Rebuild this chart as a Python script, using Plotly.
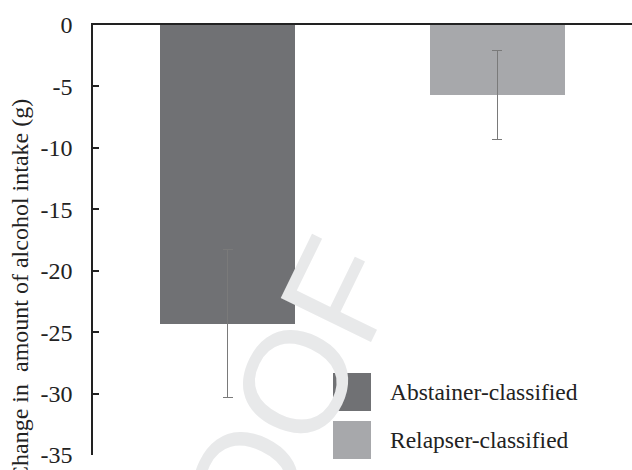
import plotly.graph_objects as go

# Mean change in alcohol intake (g) per group, with error half-widths
groups = ["Abstainer-classified", "Relapser-classified"]
mean_change = [-24.3, -5.7]
error = [6.0, 3.6]
bar_colors = ["#707174", "#a7a8ab"]

y_ticks = [0, -5, -10, -15, -20, -25, -30, -35]

W, H = 632, 470
M_L, M_R, M_T, M_B = 93, 0, 25, 15
pw = W - M_L - M_R
ph = H - M_T - M_B


def px_x(x):
    return (x - M_L) / pw


def px_y(y):
    return 1 - (y - M_T) / ph


serif = "Liberation Serif, Times New Roman, serif"
ink = "#222222"

fig = go.Figure()

# Faint background watermark
fig.add_annotation(
    text="PROOF", xref="paper", yref="paper",
    x=px_x(245), y=px_y(484), xanchor="center", yanchor="middle",
    showarrow=False, textangle=-64,
    font=dict(family="Liberation Sans, Arial, sans-serif", size=146, color="#e8e9ea"),
)

for i, (g, v, e, c) in enumerate(zip(groups, mean_change, error, bar_colors)):
    fig.add_trace(go.Bar(
        x=[i], y=[v], width=0.5, name=g,
        marker=dict(color=c, line=dict(width=0)),
        error_y=dict(type="data", array=[e], visible=True,
                     color="#7a7a7a", thickness=1.2, width=5),
        showlegend=False,
    ))

# Custom legend: large colour squares with labels
sq = 38
legend_x0 = 333
legend_y0 = [373, 421]
for g, c, y0 in zip(groups, bar_colors, legend_y0):
    fig.add_shape(
        type="rect", xref="paper", yref="paper",
        x0=px_x(legend_x0), x1=px_x(legend_x0 + sq),
        y0=px_y(y0 + sq), y1=px_y(y0),
        fillcolor=c, line=dict(width=0), layer="above",
    )
    fig.add_annotation(
        text=g, xref="paper", yref="paper",
        x=px_x(388), y=px_y(y0 + sq / 2),
        xanchor="left", yanchor="middle", showarrow=False,
        font=dict(family=serif, size=23.5, color=ink),
    )

# Y-axis title placed as a rotated annotation
fig.add_annotation(
    text="Change in  amount of alcohol intake (g)", xref="paper", yref="paper",
    x=px_x(20), y=px_y(291),
    showarrow=False, textangle=-90, xanchor="center", yanchor="middle",
    font=dict(family=serif, size=24, color=ink),
)

fig.update_layout(
    width=W, height=H,
    margin=dict(l=M_L, r=M_R, t=M_T, b=M_B),
    paper_bgcolor="white", plot_bgcolor="white",
    bargap=0,
    xaxis=dict(range=[-0.5, 1.5], side="top", showline=True, linecolor=ink,
               linewidth=1.5, showticklabels=False, ticks="", showgrid=False,
               zeroline=False),
    yaxis=dict(range=[-35, 0], tickvals=y_ticks, ticktext=[str(t) for t in y_ticks],
               showline=True, linecolor=ink, linewidth=1.5,
               ticks="inside", ticklen=6, tickcolor=ink, tickwidth=1.5,
               showgrid=False, zeroline=False, ticklabelstandoff=14,
               tickfont=dict(family=serif, size=24, color=ink)),
)

fig.write_html("out.html")
